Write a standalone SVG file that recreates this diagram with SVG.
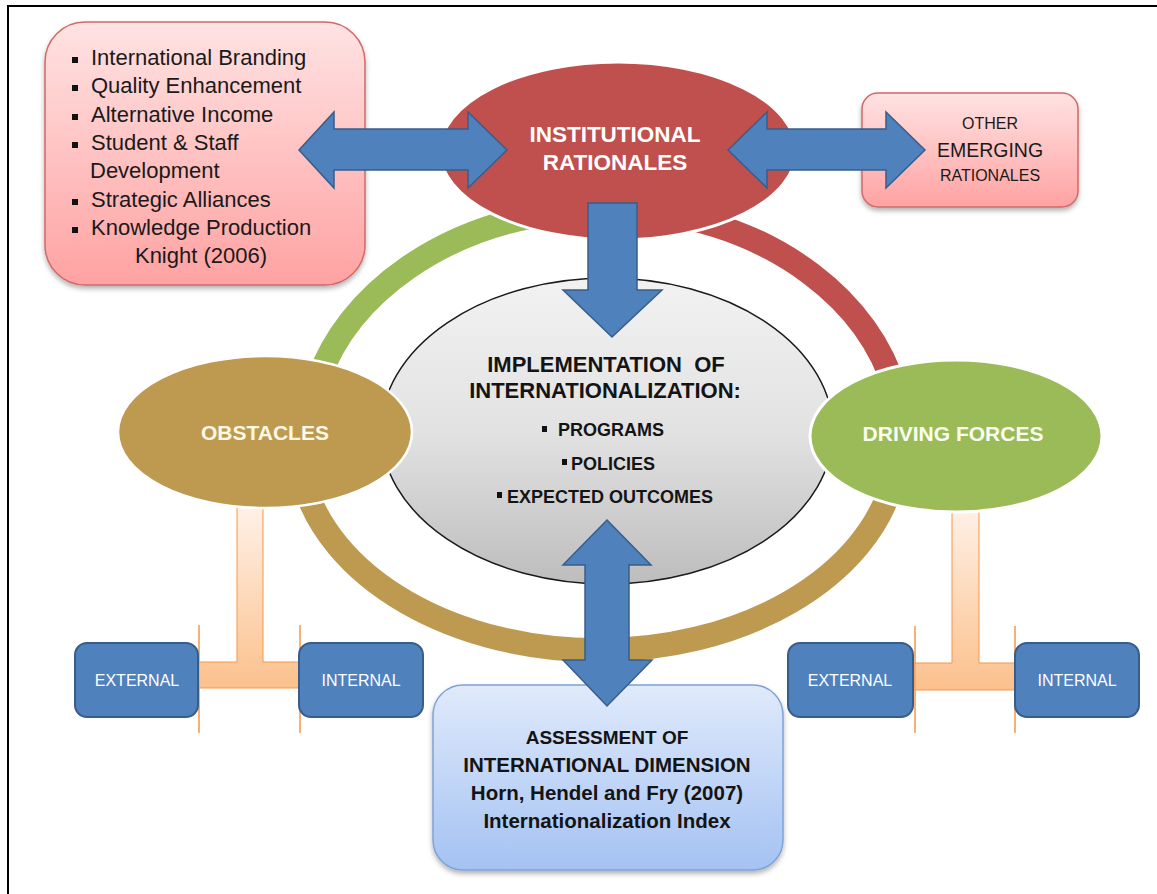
<svg xmlns="http://www.w3.org/2000/svg" width="1157" height="894" viewBox="0 0 1157 894">
<defs>
<style>
text{font-family:"Liberation Sans",Arial,sans-serif;}
.lst{font-size:22px;fill:#1a1a1a;}
.wb{font-weight:bold;fill:#ffffff;}
.dk{font-weight:bold;fill:#141414;}
.small{font-size:16px;fill:#ffffff;}
.arrow{fill:#4F81BD;stroke:#385D8A;stroke-width:1.5;stroke-linejoin:miter;}
.ring{fill:none;stroke-width:24;}
.tbar{stroke:#F79646;stroke-width:1;}
.cap{stroke:#F79646;stroke-width:1.5;}
.bbox{fill:#4F81BD;stroke:#385D8A;stroke-width:2;}
.bul{fill:#111;}
</style>
<linearGradient id="pink" x1="0" y1="0" x2="0" y2="1">
<stop offset="0" stop-color="#FFE3E3"/>
<stop offset="1" stop-color="#FFA2A2"/>
</linearGradient>
<linearGradient id="blueg" x1="0" y1="0" x2="0" y2="1">
<stop offset="0" stop-color="#E0EAFB"/>
<stop offset="1" stop-color="#A4C2F3"/>
</linearGradient>
<linearGradient id="grayg" x1="0" y1="0" x2="0" y2="1">
<stop offset="0" stop-color="#F2F2F2"/>
<stop offset="0.5" stop-color="#E2E2E2"/>
<stop offset="1" stop-color="#BDBDBD"/>
</linearGradient>
<linearGradient id="peachL" gradientUnits="userSpaceOnUse" x1="0" y1="510" x2="0" y2="690">
<stop offset="0" stop-color="#FFF0E6"/>
<stop offset="1" stop-color="#FBC08C"/>
</linearGradient>
<filter id="sh" x="-10%" y="-10%" width="120%" height="130%">
<feDropShadow dx="0" dy="3" stdDeviation="2.5" flood-color="#000" flood-opacity="0.3"/>
</filter>
</defs>
<rect x="0" y="0" width="1157" height="894" fill="#ffffff"/>
<path d="M8 894 L8 6 L1157 6" fill="none" stroke="#000" stroke-width="2"/>

<g id="connectors">
<path class="ring" stroke="#9BBB59" d="M318 380 A298 233 0 0 1 560 212"/>
<path class="ring" stroke="#C0504D" d="M660 213 A298 233 0 0 1 895 390"/>
<path class="ring" stroke="#BE9A50" d="M893 480 A300 208 0 0 1 303 480"/>
<line class="cap" x1="199" y1="625" x2="199" y2="733"/>
<line class="cap" x1="300" y1="625" x2="300" y2="733"/>
<path class="tbar" fill="url(#peachL)" d="M237 505 L263 505 L263 662 L300 662 L300 688 L199 688 L199 662 L237 662 Z"/>
<line class="cap" x1="915" y1="626" x2="915" y2="733"/>
<line class="cap" x1="1015" y1="626" x2="1015" y2="733"/>
<path class="tbar" fill="url(#peachL)" d="M952 505 L979 505 L979 663 L1015 663 L1015 690 L915 690 L915 663 L952 663 Z"/>
</g>

<g id="knight-box">
<rect x="45" y="22" width="320" height="263" rx="40" fill="url(#pink)" stroke="#D06A68" stroke-width="1.5" filter="url(#sh)"/>
<rect class="bul" x="72" y="57" width="6" height="6"/>
<text class="lst" x="91" y="65">International Branding</text>
<rect class="bul" x="72" y="85" width="6" height="6"/>
<text class="lst" x="91" y="93">Quality Enhancement</text>
<rect class="bul" x="72" y="114" width="6" height="6"/>
<text class="lst" x="91" y="122">Alternative Income</text>
<rect class="bul" x="72" y="142" width="6" height="6"/>
<text class="lst" x="91" y="150">Student &amp; Staff</text>
<text class="lst" x="90" y="178">Development</text>
<rect class="bul" x="72" y="199" width="6" height="6"/>
<text class="lst" x="91" y="207">Strategic Alliances</text>
<rect class="bul" x="72" y="227" width="6" height="6"/>
<text class="lst" x="91" y="235">Knowledge Production</text>
<text class="lst" x="201" y="263" text-anchor="middle">Knight (2006)</text>
</g>

<g id="other-emerging">
<rect x="862" y="93" width="216" height="114" rx="16" fill="url(#pink)" stroke="#D06A68" stroke-width="1.5" filter="url(#sh)"/>
<text x="990" y="129" text-anchor="middle" font-size="16" fill="#1a1a1a">OTHER</text>
<text x="990" y="157" text-anchor="middle" font-size="19.5" fill="#1a1a1a">EMERGING</text>
<text x="990" y="181" text-anchor="middle" font-size="16" fill="#1a1a1a">RATIONALES</text>
</g>

<g id="assessment">
<rect x="433" y="685" width="350" height="185" rx="30" fill="url(#blueg)" stroke="#7FA2D6" stroke-width="1.5" filter="url(#sh)"/>
<text class="dk" x="607" y="744" text-anchor="middle" font-size="19">ASSESSMENT OF</text>
<text class="dk" x="607" y="772" text-anchor="middle" font-size="20.5">INTERNATIONAL DIMENSION</text>
<text class="dk" x="607" y="800" text-anchor="middle" font-size="20.5">Horn, Hendel and Fry (2007)</text>
<text class="dk" x="607" y="828" text-anchor="middle" font-size="20.5">Internationalization Index</text>
</g>

<g id="institutional">
<ellipse cx="618" cy="151" rx="178" ry="89" fill="#C0504D" stroke="#ffffff" stroke-width="3"/>
<text class="wb" x="615" y="142" text-anchor="middle" font-size="22.5">INSTITUTIONAL</text>
<text class="wb" x="615" y="170" text-anchor="middle" font-size="22.5">RATIONALES</text>
</g>

<g id="implementation">
<ellipse cx="607" cy="431" rx="226" ry="153" fill="url(#grayg)" stroke="#1a1a1a" stroke-width="1.5"/>
<text class="dk" x="606" y="372" text-anchor="middle" font-size="22">IMPLEMENTATION &#160;OF</text>
<text class="dk" x="605" y="398" text-anchor="middle" font-size="22">INTERNATIONALIZATION:</text>
<rect class="bul" x="542" y="426" width="5" height="6"/>
<text class="dk" x="558" y="436" font-size="18">PROGRAMS</text>
<rect class="bul" x="562" y="459" width="5" height="6"/>
<text class="dk" x="571" y="470" font-size="18">POLICIES</text>
<rect class="bul" x="497" y="492" width="5" height="6"/>
<text class="dk" x="507" y="503" font-size="18">EXPECTED OUTCOMES</text>
</g>

<g id="obstacles">
<ellipse cx="265" cy="432" rx="147" ry="76" fill="#BE9A50" stroke="#ffffff" stroke-width="2.5"/>
<text x="265" y="440" text-anchor="middle" font-size="21" font-weight="bold" fill="#FFF8E4">OBSTACLES</text>
</g>

<g id="driving-forces">
<ellipse cx="956" cy="436" rx="146" ry="76" fill="#9BBB59" stroke="#ffffff" stroke-width="3"/>
<text x="953" y="441" text-anchor="middle" font-size="21" font-weight="bold" fill="#FAFFF0">DRIVING FORCES</text>
</g>

<g id="obstacles-external">
<rect class="bbox" x="75" y="643" width="123" height="74" rx="12"/>
<text class="small" x="137" y="686" text-anchor="middle">EXTERNAL</text>
</g>
<g id="obstacles-internal">
<rect class="bbox" x="299" y="643" width="124" height="74" rx="12"/>
<text class="small" x="361" y="686" text-anchor="middle">INTERNAL</text>
</g>
<g id="driving-external">
<rect class="bbox" x="788" y="643" width="125" height="74" rx="12"/>
<text class="small" x="850" y="686" text-anchor="middle">EXTERNAL</text>
</g>
<g id="driving-internal">
<rect class="bbox" x="1015" y="643" width="124" height="74" rx="12"/>
<text class="small" x="1077" y="686" text-anchor="middle">INTERNAL</text>
</g>

<g id="arrows">
<path class="arrow" d="M299 150 L334 112 L334 129 L468 129 L468 112 L507 150 L468 188 L468 170 L334 170 L334 188 Z"/>
<path class="arrow" d="M728 150 L767 112 L767 129 L886 129 L886 112 L925 150 L886 188 L886 170 L767 170 L767 188 Z"/>
<path class="arrow" d="M588 203 L637 203 L637 290 L662 290 L612 337 L563 290 L588 290 Z"/>
<path class="arrow" d="M607 520 L651 565 L629 565 L629 660 L652 660 L607 706 L563 660 L585 660 L585 565 L563 565 Z"/>
</g>
</svg>
